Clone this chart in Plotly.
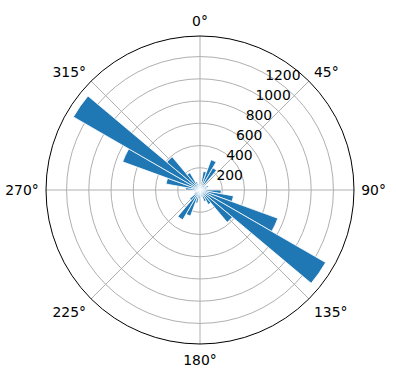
import plotly.graph_objects as go

# Bin centres (degrees, compass) and counts
directions = [5, 15, 25, 35, 45, 55, 65, 75, 85, 95, 105, 115, 125, 135, 145, 155, 165, 175,
              185, 195, 205, 215, 225, 235, 245, 255, 265, 275, 285, 295, 305, 315, 325, 335, 345, 355]
counts = [50, 170, 290, 230, 60, 40, 80, 60, 60, 190, 305, 745, 1305, 380, 150, 110, 60, 50,
          80, 120, 250, 310, 120, 60, 30, 40, 60, 130, 310, 740, 1315, 390, 180, 80, 50, 40]
bin_width = 10
angle_ticks = [0, 45, 90, 135, 180, 225, 270, 315]
radial_ticks = [200, 400, 600, 800, 1000, 1200]
r_max = 1385

fig = go.Figure()
fig.add_trace(go.Barpolar(
    theta=directions,
    r=counts,
    width=[bin_width] * len(directions),
    marker=dict(color="#1f77b4", line=dict(color="white", width=0.8)),
    hoverinfo="skip",
))

font = dict(family="DejaVu Sans", size=13.9, color="black")
fig.update_layout(
    width=396, height=380,
    margin=dict(l=46, r=42, t=36, b=36),
    paper_bgcolor="white",
    showlegend=False,
    font=font,
    polar=dict(
        bgcolor="white",
        bargap=0,
        angularaxis=dict(
            rotation=90, direction="clockwise",
            tickmode="array", tickvals=angle_ticks,
            ticktext=[f"{a}°" for a in angle_ticks],
            showline=True, linecolor="black", linewidth=1,
            showgrid=True, gridcolor="#b0b0b0", gridwidth=1,
            ticks="outside", ticklen=4, tickcolor="rgba(0,0,0,0)",
            tickfont=font,
        ),
        radialaxis=dict(
            range=[0, r_max], angle=64, side="clockwise",
            tickmode="array", tickvals=radial_ticks,
            showline=False, showgrid=True, gridcolor="#b0b0b0", gridwidth=1,
            ticks="", tickfont=font, tickangle=64,
        ),
    ),
)
fig.write_html("out.html")
